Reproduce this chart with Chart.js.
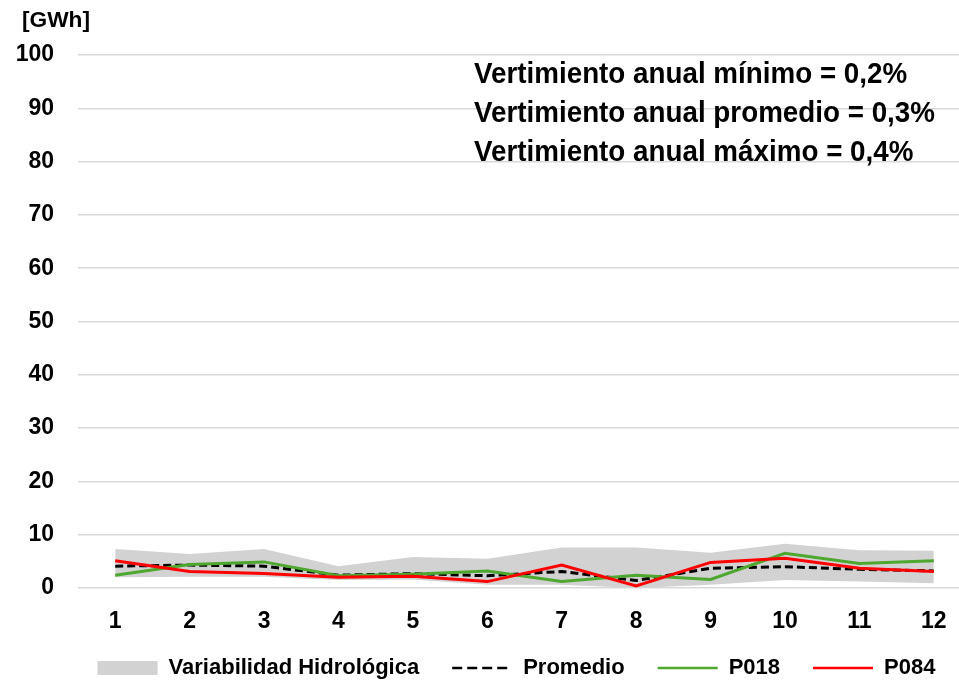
<!DOCTYPE html>
<html>
<head>
<meta charset="utf-8">
<script src="https://cdn.jsdelivr.net/npm/chart.js@4.4.1/dist/chart.umd.min.js"></script>
<style>
  html, body { margin: 0; padding: 0; background: #fff; overflow: hidden; }
  #wrap { width: 980px; height: 683px; }
</style>
</head>
<body>
<div id="wrap"><canvas id="myChart"></canvas></div>
<script>
const months = ['1', '2', '3', '4', '5', '6', '7', '8', '9', '10', '11', '12'];
const bandMax = [7.3, 6.4, 7.3, 4.1, 5.8, 5.5, 7.6, 7.6, 6.6, 8.3, 7.1, 7.0];
const bandMin = [2.0, 2.1, 2.1, 1.5, 1.6, 0.6, 0.6, 0.0, 0.6, 1.5, 1.2, 0.9];
const promedio = [4.1, 4.3, 4.1, 2.4, 2.7, 2.3, 3.1, 1.4, 3.7, 4.0, 3.5, 3.2];
const p018 = [2.4, 4.4, 4.9, 2.3, 2.6, 3.2, 1.2, 2.4, 1.6, 6.5, 4.6, 5.1];
const p084 = [5.1, 3.1, 2.7, 2.0, 2.2, 1.2, 4.3, 0.4, 4.8, 5.6, 3.7, 3.1];
const notes = [
  'Vertimiento anual mínimo = 0,2%',
  'Vertimiento anual promedio = 0,3%',
  'Vertimiento anual máximo = 0,4%'
];

const gray = 'rgb(210,210,210)';
const font = '"Liberation Sans", Arial, sans-serif';

const notesPlugin = {
  id: 'notes',
  afterLayout: chart => {
    // wider gaps between legend items than the fit used, same row height
    const lg = chart.legend;
    lg.left -= 10;
    lg.top -= 20;
    lg.options.labels.padding = 33;
  },
  afterDraw: chart => {
    const ctx = chart.ctx;
    ctx.save();
    ctx.fillStyle = '#000';
    ctx.textBaseline = 'alphabetic';
    ctx.font = `bold 22px ${font}`;
    ctx.save();
    ctx.translate(22, 0);
    ctx.scale(68 / ctx.measureText('[GWh]').width, 1);
    ctx.fillText('[GWh]', 0, 27);
    ctx.restore();
    ctx.font = `bold 29px ${font}`;
    const w = ctx.measureText(notes[1]).width;
    ctx.translate(474, 0);
    ctx.scale(461 / w, 1);
    notes.forEach((t, i) => ctx.fillText(t, 0, 83 + i * 39));
    ctx.restore();
  }
};

new Chart(document.getElementById('myChart'), {
  type: 'line',
  data: {
    labels: months,
    datasets: [
      {
        label: 'Variabilidad Hidrológica',
        data: bandMax,
        borderWidth: 0,
        borderColor: gray,
        backgroundColor: gray,
        pointRadius: 0,
        pointStyle: 'rect',
        fill: '+1',
        order: 5
      },
      {
        label: 'min',
        data: bandMin,
        borderWidth: 0,
        borderColor: gray,
        backgroundColor: gray,
        pointRadius: 0,
        fill: false,
        order: 5
      },
      {
        label: 'Promedio',
        data: promedio,
        borderColor: '#000',
        backgroundColor: '#000',
        borderWidth: 3,
        borderDash: [8, 4],
        pointRadius: 0,
        pointStyle: 'line',
        fill: false,
        order: 3
      },
      {
        label: 'P018',
        data: p018,
        borderColor: 'rgb(78,167,46)',
        backgroundColor: 'rgb(78,167,46)',
        borderWidth: 3,
        pointRadius: 0,
        pointStyle: 'line',
        fill: false,
        order: 2
      },
      {
        label: 'P084',
        data: p084,
        borderColor: '#ff0000',
        backgroundColor: '#ff0000',
        borderWidth: 3,
        pointRadius: 0,
        pointStyle: 'line',
        fill: false,
        order: 1
      }
    ]
  },
  options: {
    responsive: true,
    maintainAspectRatio: false,
    animation: false,
    layout: { padding: { top: 55, right: 9, left: 0, bottom: -8 } },
    plugins: {
      tooltip: { enabled: false },
      title: { display: false },
      legend: {
        position: 'bottom',
        labels: {
          filter: item => item.text !== 'min',
          sort: (a, b) => a.datasetIndex - b.datasetIndex,
          generateLabels: chart => {
            const items = Chart.defaults.plugins.legend.labels.generateLabels(chart);
            items.forEach(it => {
              const ds = chart.data.datasets[it.datasetIndex];
              it.lineDash = ds.borderDash ? [10, 5] : [];
              it.lineWidth = ds.pointStyle === 'line' ? 2.5 : 0;
              it.strokeStyle = ds.borderColor;
              it.fillStyle = ds.backgroundColor;
            });
            return items;
          },
          usePointStyle: true,
          pointStyleWidth: 60,
          boxWidth: 60,
          boxHeight: 14,
          padding: 15,
          color: '#000',
          font: { family: font, size: 22, weight: 'bold' }
        }
      }
    },
    scales: {
      x: {
        offset: true,
        afterFit: s => { s.height = 56; },
        grid: { display: false, drawTicks: false },
        border: { display: false },
        ticks: {
          color: '#000',
          padding: 20,
          font: { family: font, size: 23, weight: 'bold' }
        }
      },
      y: {
        min: 0,
        max: 100,
        afterFit: s => { s.width = 78; },
        grid: { color: '#d9d9d9', lineWidth: 1.5, drawTicks: false },
        border: { display: false },
        ticks: {
          stepSize: 10,
          color: '#000',
          padding: 24,
          font: { family: font, size: 23, weight: 'bold' }
        }
      }
    }
  },
  plugins: [notesPlugin]
});
</script>
</body>
</html>
